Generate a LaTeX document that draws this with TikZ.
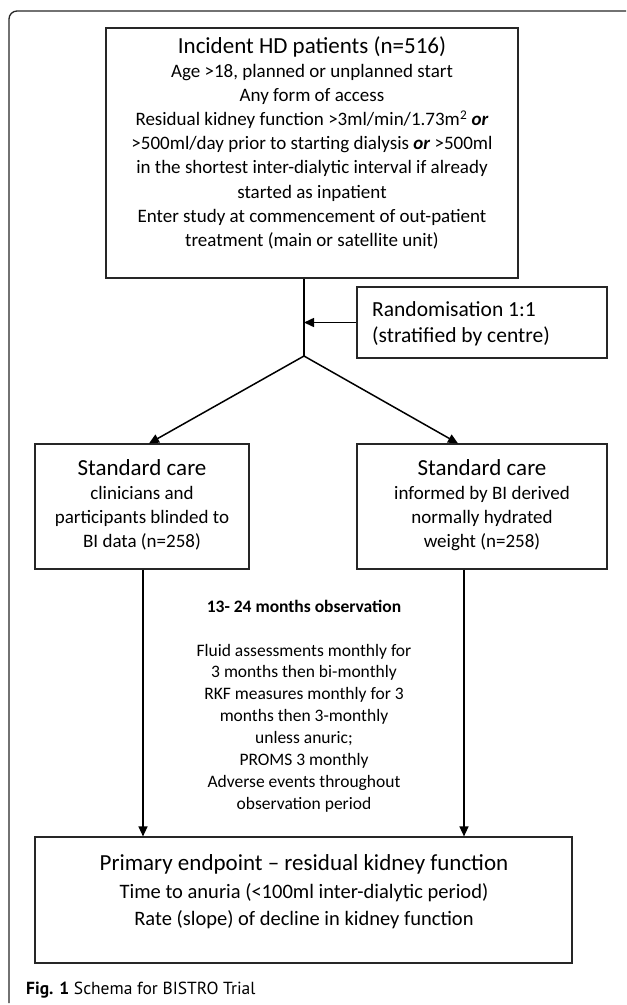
\documentclass[tikz,border=0pt]{standalone}
\usepackage{fontspec}
\setmainfont{Carlito}
\newfontfamily\capfont{PT Sans}
\usetikzlibrary{arrows.meta}

\begin{document}
\begin{tikzpicture}
      [x=1pt,y=-1pt
      ,box/.style={draw=black!85,line width=1.2pt,inner sep=0pt}
      ,head/.style={font=\fontsize{23}{27}\selectfont,anchor=base,inner sep=0pt}
      ,body/.style={font=\fontsize{19}{24.2}\selectfont,align=center,anchor=base,inner sep=0pt}
      ,note/.style={font=\fontsize{17.5}{21.9}\selectfont,align=center,anchor=base,inner sep=0pt}
      ,arr/.style={line width=1.5pt,-{Triangle[length=10pt,width=9pt]}}
      ,trunk/.style={line width=2.6pt}
      ]
        \useasboundingbox (0,0) rectangle (627,1005);
        \draw[line width=1.3pt,black!85,rounded corners=8pt] (9,1003) -- (9,11) -- (626,11);
        \node[box,minimum width=412,minimum height=250] (incident) at (312,153) {};
        \node[box,minimum width=250,minimum height=71] (random) at (482,322.5) {};
        \node[box,minimum width=214,minimum height=125] (blinded) at (142,506.5) {};
        \node[box,minimum width=250,minimum height=125] (informed) at (482,506.5) {};
        \node[box,minimum width=537,minimum height=126] (endpoint) at (303.5,900) {};
        \node[head] (incidenttitle) at (312,53) {Incident HD patients (n=516)};
        \node[body] (incidenttext) at (312,246.4) {Age >18, planned or unplanned start\\Any form of access\\Residual kidney function >3ml/min/1.73m\textsuperscript{2} \textbf{\textit{or}}\\>500ml/day prior to starting dialysis \textbf{\textit{or}} >500ml\\in the shortest inter-dialytic interval if already\\started as inpatient\\Enter study at commencement of out-patient\\treatment (main or satellite unit)};
        \node[body,align=left,anchor=base west,font=\fontsize{21.5}{26}\selectfont] (randomtext) at (372,342) {Randomisation 1:1\\(stratified by centre)};
        \node[head] (blindedtitle) at (142,475) {Standard care};
        \node[body] (blindedtext) at (142,547.4) {clinicians and\\participants blinded to\\BI data (n=258)};
        \node[head] (informedtitle) at (482,475) {Standard care};
        \node[body] (informedtext) at (482,547.4) {informed by BI derived\\normally hydrated\\weight (n=258)};
        \node[note,font=\fontsize{17.5}{21.9}\selectfont\bfseries] (period) at (304,612) {13- 24 months observation};
        \node[note] (schedule) at (304,809.3) {Fluid assessments monthly for\\3 months then bi-monthly\\RKF measures monthly for 3\\months then 3-monthly\\unless anuric;\\PROMS 3 monthly\\Adverse events throughout\\observation period};
        \node[head] (endpointtitle) at (304,870) {Primary endpoint – residual kidney function};
        \node[body,font=\fontsize{20.5}{27}\selectfont] (endpointtext) at (304,925) {Time to anuria (<100ml inter-dialytic period)\\Rate (slope) of decline in kidney function};
        \node[anchor=base west,inner sep=0pt,font=\capfont\fontsize{17.5}{20}\selectfont] (caption) at (26,994) {\textbf{Fig. 1} Schema for BISTRO Trial};
        \coordinate (split) at (304,356);
        \draw[trunk] (incident.south -| split) -- (split);
        \draw[arr] (random.west) -- (random.west -| split);
        \draw[arr] (split) -- ([xshift=7pt]blinded.north);
        \draw[arr] (split) -- ([xshift=-24pt]informed.north);
        \draw[arr] ([xshift=1pt]blinded.south) -- ([xshift=1pt]blinded.south |- endpoint.north);
        \draw[arr] ([xshift=-18pt]informed.south) -- ([xshift=-18pt]informed.south |- endpoint.north);
      \end{tikzpicture}
\end{document}
